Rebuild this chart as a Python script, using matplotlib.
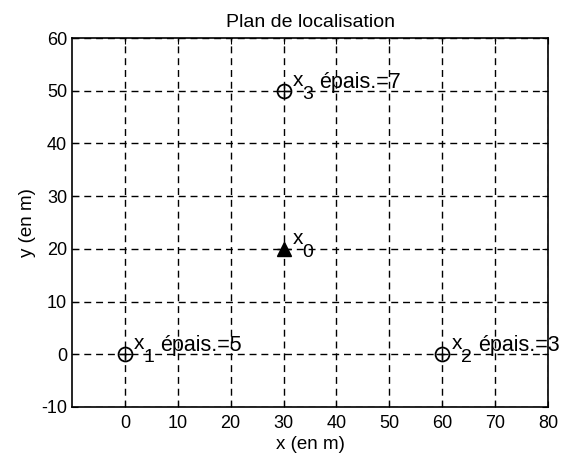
import numpy as np
import matplotlib.pyplot as plt

plt.rcParams['font.family'] = ['Liberation Sans', 'DejaVu Sans']
plt.rcParams['axes.unicode_minus'] = False

# capteurs
cap_x = [0, 60, 30]
cap_y = [0, 0, 50]
cap_sub = ['1', '2', '3']
cap_ep = ['épais.=5', 'épais.=3', 'épais.=7']
# source
src_x = [30]
src_y = [20]

fig = plt.figure(figsize=(5.65, 4.63), dpi=100)
ax = fig.add_axes([0.1274, 0.121, 0.8426, 0.7969])

ax.plot(cap_x, cap_y, 'ko', mfc='none', ms=10, mew=1.3)
ax.plot(cap_x, cap_y, 'k+', ms=8, mew=1)
ax.plot(src_x, src_y, 'k^', ms=10)
ax.plot(src_x, src_y, 'k+', ms=10, mew=1)

def label(x, y, sub, rest=None):
    kw = dict(xycoords='data', textcoords='offset points',
              ha='left', va='baseline')
    ax.annotate('x', (x, y), xytext=(6.5, 3.6), fontsize=15, **kw)
    ax.annotate(sub, (x, y), xytext=(13.2, -5.8), fontsize=14, **kw)
    if rest:
        ax.annotate(rest, (x, y), xytext=(25.5, 2.2), fontsize=15.5, **kw)

for x, y, s, r in zip(cap_x, cap_y, cap_sub, cap_ep):
    label(x, y, s, r)
label(src_x[0], src_y[0], '0')

ax.set_xlim(-10, 80)
ax.set_ylim(-10, 60)
ax.set_xticks(np.arange(0, 81, 10))
ax.set_yticks(np.arange(-10, 61, 10))
ax.grid(True, color='k', linestyle=(0, (5, 3.5)), linewidth=1)
ax.tick_params(direction='in', top=True, right=True, labelsize=13, length=4)
ax.tick_params(axis='x', pad=5.5)
for s in ax.spines.values():
    s.set_linewidth(1.2)

ax.set_title('Plan de localisation', fontsize=14, pad=8)
ax.set_xlabel('x (en m)', fontsize=13.5, labelpad=3)
ax.set_ylabel('y (en m)', fontsize=13.5, labelpad=4)

fig.savefig('out.png', dpi=100)
